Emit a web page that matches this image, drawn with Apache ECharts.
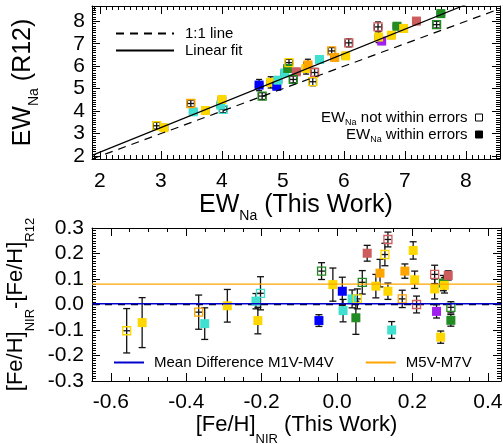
<!DOCTYPE html>
<html><head><meta charset="utf-8">
<script src="https://cdn.jsdelivr.net/npm/echarts@6/dist/echarts.min.js"></script>
<style>html,body{margin:0;padding:0;background:#fff}#c{width:503px;height:444px}</style>
</head><body><div id="c"></div>
<script>
const FONT = "'Liberation Sans', Arial, sans-serif";
const colorMap = {yellow:'#FFD700', orange:'#FFA500', cyan:'#40E0D0', blue:'#0000FF', green:'#228B22', red:'#CD5C5C', purple:'#A020F0'};

// ---- Top panel: EW_Na (This Work) vs EW_Na (R12)
const topX     = [2.93,3.05,3.49,3.53,3.73,3.98,4.00,4.02,4.61,4.66,4.80,4.90,4.92,5.03,5.08,5.10,5.22,5.17,5.38,5.41,5.52,5.49,5.60,5.80,5.85,6.03,6.08,6.56,6.62,6.57,6.78,6.87,6.98,7.19,7.52,7.59];
const topY     = [3.35,3.26,4.34,3.97,4.03,4.27,4.52,4.08,5.16,4.67,5.28,5.11,5.38,5.70,5.90,6.16,5.75,5.41,5.90,6.06,5.72,5.31,6.30,6.68,6.39,6.46,7.04,7.75,7.12,7.30,7.38,7.78,7.68,8.01,7.85,8.34];
const topXErr  = [0.06,0.06,0.06,0.06,0.06,0.06,0.06,0.06,0.06,0.06,0.06,0.06,0.06,0.06,0.06,0.06,0.06,0.06,0.06,0.06,0.06,0.06,0.06,0.06,0.06,0.06,0.06,0.06,0.06,0.06,0.06,0.06,0.06,0.06,0.06,0.06];
const topYErr  = [0.15,0.15,0.15,0.15,0.15,0.15,0.15,0.15,0.25,0.15,0.25,0.15,0.15,0.15,0.15,0.15,0.15,0.15,0.25,0.25,0.18,0.18,0.15,0.15,0.15,0.15,0.18,0.22,0.15,0.25,0.15,0.15,0.15,0.15,0.15,0.15];
const topColor = ['yellow','yellow','orange','cyan','yellow','cyan','yellow','cyan','blue','green','yellow','blue','cyan','cyan','green','yellow','red','green','yellow','orange','red','yellow','cyan','orange','orange','yellow','red','red','purple','yellow','yellow','green','yellow','red','green','green'];
const topOpen  = [1,0,1,0,0,0,0,1,0,1,0,0,0,0,0,1,0,1,0,0,1,1,0,1,0,0,1,1,0,0,0,0,0,0,1,0];
const fitSlope = 1.095, fitIntercept = -0.018;
const topXRange = [1.87, 8.56], topYRange = [1.87, 8.68];
const topXTickLabels = [2,3,4,5,6,7,8];
const topYTickLabels = [2,3,4,5,6,7,8];

// ---- Bottom panel: [Fe/H]_NIR vs difference
const botX     = [-0.558,-0.517,-0.367,-0.351,-0.291,-0.215,-0.203,-0.210,-0.048,-0.041,-0.011,0.014,0.016,0.040,0.054,0.050,0.067,0.080,0.114,0.103,0.135,0.127,0.135,0.145,0.173,0.180,0.202,0.206,0.211,0.259,0.259,0.264,0.275,0.282,0.285,0.295,0.302,0.302];
const botY     = [-0.103,-0.071,-0.030,-0.075,-0.005,0.013,0.044,-0.063,-0.063,0.131,0.078,0.052,-0.024,0.022,0.022,-0.052,0.087,0.201,0.123,0.072,0.255,0.196,0.052,-0.100,0.022,0.131,0.212,0.097,0.000,0.118,0.061,-0.027,-0.128,0.084,0.075,0.114,-0.011,-0.062];
const botYErr  = [0.087,0.098,0.067,0.062,0.064,0.030,0.065,0.052,0.023,0.033,0.065,0.055,0.044,0.035,0.039,0.065,0.046,0.031,0.054,0.046,0.029,0.044,0.032,0.033,0.034,0.028,0.034,0.034,0.033,0.036,0.039,0.026,0.024,0.030,0.030,0.018,0.022,0.023];
const botColor = ['yellow','yellow','orange','cyan','yellow','cyan','cyan','yellow','blue','green','yellow','blue','cyan','cyan','yellow','green','green','red','orange','yellow','red','yellow','yellow','cyan','orange','orange','yellow','yellow','red','red','yellow','purple','yellow','green','yellow','red','green','green'];
const botOpen  = [1,0,1,0,0,0,1,0,0,1,0,0,0,0,1,0,1,0,0,0,1,1,0,0,1,0,0,0,1,1,0,0,0,0,0,0,1,0];
const botXErr  = botX.map(() => 0.009);
const meanM1M4 = 0.003, meanM5M7 = 0.08;
const botXRange = [-0.65, 0.435], botYRange = [-0.3, 0.3];
const botXTickLabels = [-0.6,-0.4,-0.2,0.0,0.2,0.4];
const botYTickLabels = [-0.3,-0.2,-0.1,0.0,0.1,0.2,0.3];

function fmtFrom(list, dec) {
  return function (v) {
    for (const t of list) if (Math.abs(v - t) < 1e-6) return dec ? (Math.abs(t) < 1e-9 ? 0 : t).toFixed(dec) : String(t);
    return '';
  };
}

function errSeries(name, xi, yi, xs, ys, xe, ye, capX, capY, hCaps) {
  return {
    name, type: 'custom', xAxisIndex: xi, yAxisIndex: yi, z: 2, silent: true, clip: true,
    data: xs.map((x, i) => [x, ys[i], xe[i], ye[i]]),
    renderItem(params, api) {
      const x = api.value(0), y = api.value(1), ex = api.value(2), ey = api.value(3);
      const c = api.coord([x, y]);
      const t = api.coord([x, y + ey]), b = api.coord([x, y - ey]);
      const l = api.coord([x - ex, y]), r = api.coord([x + ex, y]);
      const st = {stroke: '#111', lineWidth: 1.3};
      const ch = [
        {type: 'line', shape: {x1: c[0], y1: t[1], x2: c[0], y2: b[1]}, style: st},
        {type: 'line', shape: {x1: c[0] - capX, y1: t[1], x2: c[0] + capX, y2: t[1]}, style: st},
        {type: 'line', shape: {x1: c[0] - capX, y1: b[1], x2: c[0] + capX, y2: b[1]}, style: st},
        {type: 'line', shape: {x1: l[0], y1: c[1], x2: r[0], y2: c[1]}, style: st}
      ];
      if (hCaps) {
        ch.push({type: 'line', shape: {x1: l[0], y1: c[1] - capY, x2: l[0], y2: c[1] + capY}, style: st});
        ch.push({type: 'line', shape: {x1: r[0], y1: c[1] - capY, x2: r[0], y2: c[1] + capY}, style: st});
      }
      return {type: 'group', children: ch};
    }
  };
}

function pts(xs, ys, cols, opens, wantOpen) {
  const out = [];
  xs.forEach((x, i) => {
    if (!!opens[i] !== wantOpen) return;
    const c = colorMap[cols[i]];
    out.push({value: [x, ys[i]], itemStyle: wantOpen ? {color: 'rgba(255,255,255,0)', borderColor: c, borderWidth: 1.3, opacity: 1} : {color: c, opacity: 1}});
  });
  return out;
}

const axisCommon = {
  axisLine: {show: true, onZero: false, lineStyle: {color: '#000', width: 1}},
  splitLine: {show: false},
  axisTick: {show: true, inside: true, length: 8, lineStyle: {color: '#000', width: 1}},
  minorTick: {show: true, length: 4, lineStyle: {color: '#000', width: 1}},
  axisLabel: {color: '#000', fontSize: 21, fontFamily: FONT}
};
function ax(extra) { return Object.assign({}, JSON.parse(JSON.stringify(axisCommon)), extra); }

const richBig = (mainSize, subSize, pad) => ({
  m: {fontSize: mainSize, lineHeight: mainSize, verticalAlign: 'top', fontFamily: FONT, color: '#000'},
  s: {fontSize: subSize, lineHeight: subSize, padding: [pad, 0, 0, 0], verticalAlign: 'top', fontFamily: FONT, color: '#000'}
});

const xAxes = [
  ax({type: 'value', gridIndex: 0, position: 'bottom', min: topXRange[0], max: topXRange[1], splitNumber: 6,
      minorTick: {show: true, splitNumber: 10, length: 4, lineStyle: {color: '#000'}},
      axisLabel: {color: '#000', fontSize: 21, fontFamily: FONT, margin: 12, formatter: fmtFrom(topXTickLabels, 0), showMinLabel: true, showMaxLabel: true},
      name: '{m|EW}{s|Na}{m| (This Work)}', nameLocation: 'middle', nameGap: 34,
      nameTextStyle: {rich: richBig(25, 14, 16)}}),
  ax({type: 'value', gridIndex: 0, position: 'top', min: topXRange[0], max: topXRange[1], splitNumber: 6,
      minorTick: {show: true, splitNumber: 10, length: 4, lineStyle: {color: '#000'}},
      axisLabel: {show: false}}),
  ax({type: 'value', gridIndex: 1, position: 'bottom', min: botXRange[0], max: botXRange[1], splitNumber: 5,
      minorTick: {show: true, splitNumber: 4, length: 4, lineStyle: {color: '#000'}},
      axisLabel: {color: '#000', fontSize: 21, fontFamily: FONT, margin: 11, formatter: fmtFrom(botXTickLabels, 1)},
      name: '{m|[Fe/H]}{s|NIR}{m| (This Work)}', nameLocation: 'middle', nameGap: 31,
      nameTextStyle: {rich: richBig(22, 13, 19)}}),
  ax({type: 'value', gridIndex: 1, position: 'top', min: botXRange[0], max: botXRange[1], splitNumber: 5,
      minorTick: {show: true, splitNumber: 4, length: 4, lineStyle: {color: '#000'}},
      axisLabel: {show: false}})
];
const yAxes = [
  ax({type: 'value', gridIndex: 0, position: 'left', min: topYRange[0], max: topYRange[1], splitNumber: 7,
      minorTick: {show: true, splitNumber: 10, length: 4, lineStyle: {color: '#000'}},
      axisLabel: {color: '#000', fontSize: 21, fontFamily: FONT, margin: 7, formatter: fmtFrom(topYTickLabels, 0)},
      name: '{m|EW}{s|Na}{m| (R12)}', nameLocation: 'middle', nameRotate: 90, nameGap: 56,
      nameTextStyle: {rich: richBig(25, 14, 16)}}),
  ax({type: 'value', gridIndex: 0, position: 'right', min: topYRange[0], max: topYRange[1], splitNumber: 7,
      minorTick: {show: true, splitNumber: 10, length: 4, lineStyle: {color: '#000'}},
      axisLabel: {show: false}}),
  ax({type: 'value', gridIndex: 1, position: 'left', min: botYRange[0], max: botYRange[1], interval: 0.1,
      minorTick: {show: true, splitNumber: 10, length: 4, lineStyle: {color: '#000'}},
      axisLabel: {color: '#000', fontSize: 21, fontFamily: FONT, margin: 8, formatter: fmtFrom(botYTickLabels, 1)},
      name: '{m|[Fe/H]}{s|NIR}{m|-[Fe/H]}{s|R12}', nameLocation: 'middle', nameRotate: 90, nameGap: 54,
      nameTextStyle: {rich: richBig(22, 13, 19)}}),
  ax({type: 'value', gridIndex: 1, position: 'right', min: botYRange[0], max: botYRange[1], interval: 0.1,
      minorTick: {show: true, splitNumber: 10, length: 4, lineStyle: {color: '#000'}},
      axisLabel: {show: false}})
];

const legRich = {
  m: {fontSize: 15, lineHeight: 15, verticalAlign: 'top', fontFamily: FONT, color: '#000'},
  s: {fontSize: 9, lineHeight: 9, padding: [8, 0, 0, 0], verticalAlign: 'top', fontFamily: FONT, color: '#000'}
};
const ewFmt = n => n.replace(/^EW_Na(.*)$/, '{m|EW}{s|Na}{m|$1}');
const noSym = {color: 'rgba(0,0,0,0)', borderWidth: 0, opacity: 0};

const option = {
  animation: false,
  backgroundColor: '#fff',
  textStyle: {fontFamily: FONT},
  grid: [
    {left: 92, top: 6, width: 408, height: 153, containLabel: false, outerBoundsMode: 'none'},
    {left: 92, top: 228, width: 409, height: 153, containLabel: false, outerBoundsMode: 'none'}
  ],
  xAxis: xAxes,
  yAxis: yAxes,
  legend: [
    {data: [{name: '1:1 line', itemStyle: noSym}, {name: 'Linear fit', itemStyle: noSym}],
     orient: 'vertical', left: 115, top: 26, padding: 0, itemGap: 2,
     itemWidth: 58, itemHeight: 14, selectedMode: false,
     textStyle: {fontSize: 15, fontFamily: FONT, color: '#000', padding: [0, 0, 0, 6]}},
    {data: [{name: 'Mean Difference M1V-M4V', itemStyle: noSym}, {name: 'M5V-M7V', itemStyle: noSym}],
     orient: 'horizontal', left: 113, top: 355, padding: 0, itemGap: 31,
     itemWidth: 30, itemHeight: 14, selectedMode: false,
     textStyle: {fontSize: 15, fontFamily: FONT, color: '#000', padding: [0, 0, 0, 5]}},
    {data: [{name: 'EW_Na not within errors', icon: 'rect', itemStyle: {color: '#fff', borderColor: '#000', borderWidth: 1, opacity: 1}}],
     right: 20, top: 110, padding: 0, align: 'right', itemWidth: 7, itemHeight: 7, selectedMode: false,
     formatter: ewFmt, textStyle: {rich: legRich, padding: [0, 3, 0, 0]}},
    {data: [{name: 'EW_Na within errors', icon: 'rect', itemStyle: {color: '#000', borderColor: '#000', borderWidth: 1, opacity: 1}}],
     right: 20, top: 127, padding: 0, align: 'right', itemWidth: 7, itemHeight: 7, selectedMode: false,
     formatter: ewFmt, textStyle: {rich: legRich, padding: [0, 3, 0, 0]}}
  ],
  series: [
    errSeries('topErr', 0, 0, topX, topY, topXErr, topYErr, 3, 3, true),
    {name: 'EW_Na within errors', type: 'scatter', xAxisIndex: 0, yAxisIndex: 0, symbol: 'rect', symbolSize: 9, z: 3,
     itemStyle: {opacity: 1}, data: pts(topX, topY, topColor, topOpen, false)},
    {name: 'EW_Na not within errors', type: 'scatter', xAxisIndex: 0, yAxisIndex: 0, symbol: 'rect', symbolSize: 8, z: 4,
     itemStyle: {opacity: 1}, data: pts(topX, topY, topColor, topOpen, true)},
    {name: '1:1 line', type: 'line', xAxisIndex: 0, yAxisIndex: 0, symbol: 'none', z: 5, silent: true,
     itemStyle: {color: '#000'}, lineStyle: {color: '#000', width: 1.2, type: [8, 6]},
     data: [[topXRange[0], topXRange[0]], [topXRange[1], topXRange[1]]]},
    {name: 'Linear fit', type: 'line', xAxisIndex: 0, yAxisIndex: 0, symbol: 'none', z: 5, silent: true,
     itemStyle: {color: '#000'}, lineStyle: {color: '#000', width: 1.2},
     data: [[topXRange[0], fitSlope * topXRange[0] + fitIntercept], [topXRange[1], fitSlope * topXRange[1] + fitIntercept]]},

    {name: 'zero', type: 'line', xAxisIndex: 2, yAxisIndex: 2, symbol: 'none', z: 1, silent: true,
     itemStyle: {color: '#000'}, lineStyle: {color: '#000', width: 1.3, type: [7, 6]},
     data: [[botXRange[0], 0], [botXRange[1], 0]]},
    errSeries('botErr', 2, 2, botX, botY, botXErr, botYErr, 3.5, 0, false),
    {name: 'botFilled', type: 'scatter', xAxisIndex: 2, yAxisIndex: 2, symbol: 'rect', symbolSize: 9, z: 3,
     itemStyle: {opacity: 1}, data: pts(botX, botY, botColor, botOpen, false)},
    {name: 'botOpen', type: 'scatter', xAxisIndex: 2, yAxisIndex: 2, symbol: 'rect', symbolSize: 8, z: 4,
     itemStyle: {opacity: 1}, data: pts(botX, botY, botColor, botOpen, true)},
    {name: 'Mean Difference M1V-M4V', type: 'line', xAxisIndex: 2, yAxisIndex: 2, symbol: 'none', z: 5, silent: true,
     itemStyle: {color: '#0000CD'}, lineStyle: {color: '#0000CD', width: 1.3},
     data: [[botXRange[0], meanM1M4], [botXRange[1], meanM1M4]]},
    {name: 'M5V-M7V', type: 'line', xAxisIndex: 2, yAxisIndex: 2, symbol: 'none', z: 5, silent: true,
     itemStyle: {color: '#FFA500'}, lineStyle: {color: '#FFA500', width: 1.3},
     data: [[botXRange[0], meanM5M7], [botXRange[1], meanM5M7]]}
  ]
};
const chart = echarts.init(document.getElementById('c'));
chart.setOption(option);
</script>
</body></html>
